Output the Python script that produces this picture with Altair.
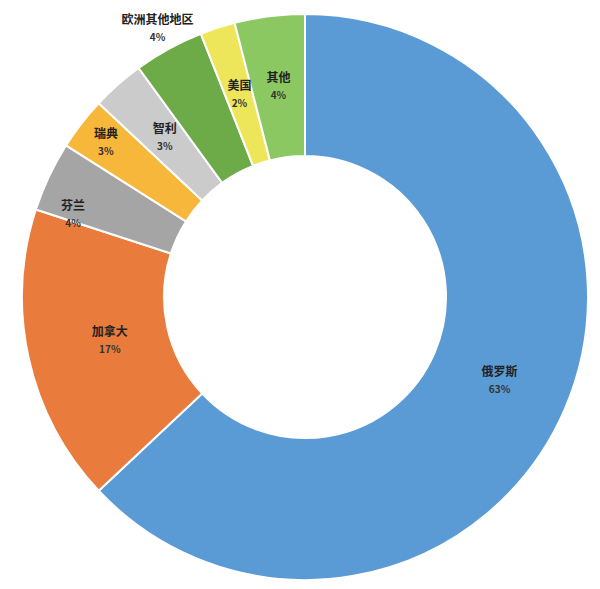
import altair as alt
import pandas as pd

names = ["俄罗斯", "加拿大", "芬兰", "瑞典", "智利", "欧洲其他地区", "美国", "其他"]
values = [63, 17, 4, 3, 3, 4, 2, 4]
pct_labels = ["63%", "17%", "4%", "3%", "3%", "4%", "2%", "4%"]
colors = ["#5B9BD5", "#E97C3C", "#A5A5A5", "#F7B73A", "#CBCBCB", "#6DAA48", "#EDE65A", "#8CC862"]

df = pd.DataFrame({
    "name": names,
    "value": values,
    "pct": pct_labels,
    "order": list(range(len(names))),
})

CX, CY = 297, 289

base = alt.Chart(df).transform_joinaggregate(
    total="sum(value)"
).transform_window(
    cum="sum(value)", sort=[alt.SortField("order", order="ascending")]
).transform_calculate(
    t0="(datum.cum - datum.value) / datum.total * 2 * PI",
    t1="datum.cum / datum.total * 2 * PI",
    tm="(datum.cum - datum.value / 2) / datum.total * 2 * PI",
)

arcs = base.mark_arc(
    outerRadius=283, innerRadius=141, stroke="white", strokeWidth=2
).encode(
    theta=alt.Theta("t0:Q", scale=None),
    theta2="t1:Q",
    color=alt.Color("name:N", scale=alt.Scale(domain=names, range=colors), legend=None),
    x=alt.value(CX),
    y=alt.value(CY),
)

radius_expr = (
    "datum.name == '欧洲其他地区' ? 306 : "
    "datum.name == '芬兰' ? 246 : "
    "datum.name == '瑞典' ? 252 : "
    "datum.name == '加拿大' ? 200 : 212"
)
angle_expr = "datum.tm + (datum.name == '芬兰' ? -0.1 : 0)"

base_text = base.transform_calculate(r=radius_expr, ta=angle_expr).encode(
    theta=alt.Theta("ta:Q", scale=None),
    radius=alt.Radius("r:Q", scale=None),
    x=alt.value(CX),
    y=alt.value(CY),
)

name_text = base_text.mark_text(
    font="Noto Sans CJK SC", fontSize=12, fontWeight="bold", color="#222222", dy=-9
).encode(text="name:N")

pct_text = base_text.mark_text(
    font="Noto Sans CJK SC", fontSize=10, fontWeight="bold", color="#333333", dy=9
).encode(text="pct:N")

chart = alt.layer(arcs, name_text, pct_text).properties(
    width=584, height=573, padding=0,
    autosize=alt.AutoSizeParams(type="none"),
).configure_view(stroke=None)

chart.save("out.html", embed_options={"renderer": "svg", "actions": False})
